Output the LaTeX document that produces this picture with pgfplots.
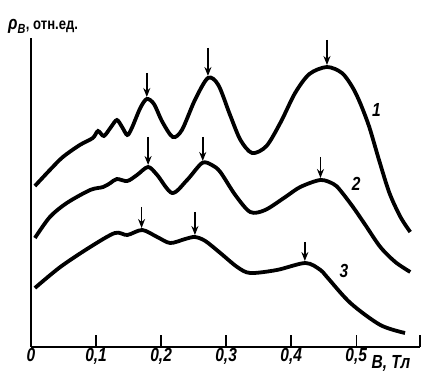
\documentclass[border=0pt]{standalone}
\usepackage{fontspec}
\setmainfont{Liberation Sans}[FakeStretch=0.82]
\usepackage{pgfplots}
\pgfplotsset{compat=1.18}
\usetikzlibrary{arrows.meta}
\begin{document}
\begin{tikzpicture}
\useasboundingbox (-31bp,-29bp) rectangle (393bp,347bp);
\begin{axis}[
  at={(0,0)}, anchor=south west,
  scale only axis, width=389bp, height=309bp,
  xmin=0, xmax=0.598, ymin=0, ymax=309,
  clip=false,
  axis x line=bottom, axis y line=left,
  axis line style={-, line width=1.7pt},
  ytick=\empty,
  xtick={0,0.1,0.2,0.3,0.4,0.5,0.598},
  xticklabels={0,{0,1},{0,2},{0,3},{0,4},{0,5},{}},
  tick align=inside, major tick length=12bp,
  every tick/.style={line width=1.5pt, black},
  xticklabel style={font=\fontsize{19}{19}\selectfont\bfseries\itshape, inner sep=1pt},
]
% curve 1
\addplot[smooth, line width=3.8pt] coordinates {
(0.006,161) (0.029,177) (0.049,190) (0.075,202) (0.095,209) (0.103,216)
(0.112,211) (0.123,220) (0.132,227) (0.140,220) (0.148,212) (0.155,219)
(0.168,239) (0.178,248) (0.189,243) (0.202,225) (0.218,210) (0.232,217)
(0.252,247) (0.272,269) (0.288,262) (0.306,232) (0.322,207) (0.340,194)
(0.362,201) (0.384,225) (0.406,254) (0.428,273) (0.455,280)
(0.478,274) (0.494,260) (0.506,244) (0.520,220) (0.535,187) (0.551,154)
(0.568,130) (0.583,115)};
% curve 2
\addplot[smooth, line width=3.8pt] coordinates {
(0.006,109) (0.029,130) (0.055,144) (0.091,157) (0.111,160) (0.122,164)
(0.132,168) (0.148,166) (0.163,172) (0.180,180) (0.194,172) (0.217,154)
(0.240,167) (0.263,184) (0.278,182) (0.291,175) (0.314,152) (0.337,135)
(0.360,137) (0.391,150) (0.414,160) (0.445,167) (0.465,163) (0.475,157)
(0.495,140) (0.514,122) (0.537,100) (0.560,85) (0.583,75)};
% curve 3
\addplot[smooth, line width=3.8pt] coordinates {
(0.006,59) (0.045,80) (0.091,100) (0.129,114) (0.148,112) (0.171,117)
(0.194,110) (0.214,104) (0.237,108) (0.252,110) (0.268,106) (0.291,94)
(0.317,80) (0.337,74) (0.378,77) (0.422,84) (0.445,77) (0.455,70)
(0.491,44) (0.537,22) (0.575,14)};
% arrows marking peaks
\addplot[quiver={u=0, v=\thisrow{v}}, line width=1.8pt,
  -{Stealth[length=9pt, width=7pt]}] table {
x y v
0.178 274 -24
0.272 299 -28
0.455 307 -25
0.180 210 -28
0.264 210 -24
0.445 190 -21
0.170 140 -21
0.252 135 -23
0.421 105 -19
};
\node[font=\fontsize{19}{19}\selectfont\bfseries\itshape] at (axis cs:0.531,237) {1};
\node[font=\fontsize{19}{19}\selectfont\bfseries\itshape] at (axis cs:0.500,163) {2};
\node[font=\fontsize{19}{19}\selectfont\bfseries\itshape] at (axis cs:0.481,76) {3};
\node[anchor=base west, font=\fontsize{19}{19}\selectfont\bfseries\itshape, inner sep=0pt]
  at (rel axis cs:0.875,-0.071) {B, Тл};
\node[anchor=base west, font=\fontsize{16}{16}\selectfont\bfseries, inner sep=0pt]
  at (rel axis cs:-0.059,1.026) {{\itshape\fontsize{19}{19}\selectfont ρ\textsubscript{B}}, отн.ед.};
\end{axis}
\end{tikzpicture}
\end{document}
